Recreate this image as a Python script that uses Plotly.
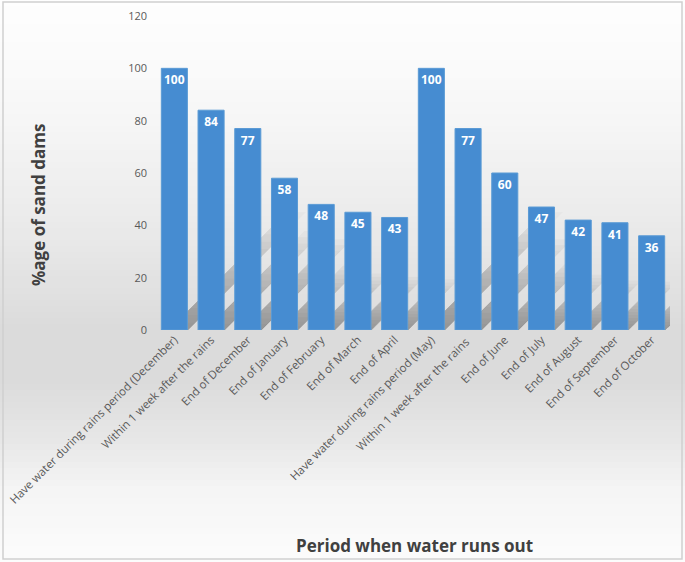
import plotly.graph_objects as go

categories = [
    "Have water during rains period (December)",
    "Within 1 week after the rains",
    "End of December",
    "End of January",
    "End of February",
    "End of March",
    "End of April",
    "Have water during rains period (May)",
    "Within 1 week after the rains ",
    "End of June",
    "End of July",
    "End of August",
    "End of September",
    "End of October",
]
values = [100, 84, 77, 58, 48, 45, 43, 100, 77, 60, 47, 42, 41, 36]
y_ticks = [0, 20, 40, 60, 80, 100, 120]

W, H = 685, 562
L, R, T, B = 156, 15, 16, 232
PW, PH = W - L - R, H - T - B


def px(x):
    return (x - L) / PW


def py(y):
    return (H - B - y) / PH


def bg_gray(y):
    stops = [(0, 254), (100, 248), (220, 235), (330, 219), (380, 219), (440, 231), (490, 245), (562, 252)]
    for (y0, c0), (y1, c1) in zip(stops, stops[1:]):
        if y0 <= y <= y1:
            return c0 + (c1 - c0) * (y - y0) / (y1 - y0)
    return stops[-1][1]


shapes = []
step = 6
for y in range(0, H, step):
    g = int(round(bg_gray(y + step / 2)))
    shapes.append(dict(type="rect", xref="paper", yref="paper", layer="below",
                       x0=px(0), x1=px(W), y0=py(y + step), y1=py(y),
                       fillcolor=f"rgb({g},{g},{g})", line=dict(width=0)))

# soft perspective shadows behind bars (derived from values)
cat_px = PW / len(categories)
y_px = PH / 120
half = 0.355
n_layers = 16
for i, v in enumerate(values):
    for k in range(n_layers):
        scale = 0.45 * (k + 1) / n_layers
        dy = v * scale
        dx = dy * y_px / cat_px
        x0 = i - half + 0.2
        x1 = i + half + 0.02
        path = f"M {x0},0 L {x1},0 L {x1 + dx},{dy} L {x0 + dx},{dy} Z"
        shapes.append(dict(type="path", xref="x", yref="y", layer="below", path=path,
                           fillcolor="rgba(60,60,60,0.03)", line=dict(width=0)))

# outer border
shapes.append(dict(type="rect", xref="paper", yref="paper", layer="above",
                   x0=px(3), x1=px(682), y0=py(559), y1=py(2),
                   fillcolor="rgba(0,0,0,0)", line=dict(color="#d0d0d0", width=1.5)))

fig = go.Figure(go.Bar(
    x=list(range(len(categories))),
    y=values,
    text=[str(v) for v in values],
    textposition="inside",
    insidetextanchor="end",
    textangle=0,
    constraintext="none",
    textfont=dict(color="white", size=12, family="Open Sans", weight="bold"),
    marker=dict(color="#468cd1", line=dict(color="#5b9bd5", width=1)),
    hoverinfo="skip",
))

fig.update_layout(
    width=W, height=H,
    margin=dict(l=L, r=R, t=T, b=B),
    paper_bgcolor="white",
    plot_bgcolor="rgba(0,0,0,0)",
    bargap=0.29,
    showlegend=False,
    shapes=shapes,
    font=dict(family="Open Sans", color="#595959"),
    xaxis=dict(
        tickmode="array",
        tickvals=list(range(len(categories))),
        ticktext=categories,
        tickangle=-45,
        tickfont=dict(size=11.5, color="#595959"),
        showgrid=False, zeroline=False, showline=False,
        range=[-0.5, len(categories) - 0.5],
        automargin=False,
    ),
    yaxis=dict(
        range=[0, 120],
        tickvals=y_ticks,
        tickfont=dict(size=11, color="#595959"),
        showgrid=False, zeroline=False, showline=False,
        ticklabelstandoff=8,
        automargin=False,
    ),
)

fig.add_annotation(text="Period when water runs out", xref="paper", yref="paper",
                   x=px(414), y=py(545), xanchor="center", yanchor="middle", showarrow=False,
                   font=dict(size=17, color="#404040", family="Open Sans", weight="bold"))
fig.add_annotation(text="%age of sand dams", xref="paper", yref="paper",
                   x=px(38), y=py(205), xanchor="center", yanchor="middle",
                   showarrow=False, textangle=-90,
                   font=dict(size=17, color="#404040", family="Open Sans", weight="bold"))

fig.write_html("out.html", config={"displayModeBar": False},
               post_script="document.body.style.margin='0';")
